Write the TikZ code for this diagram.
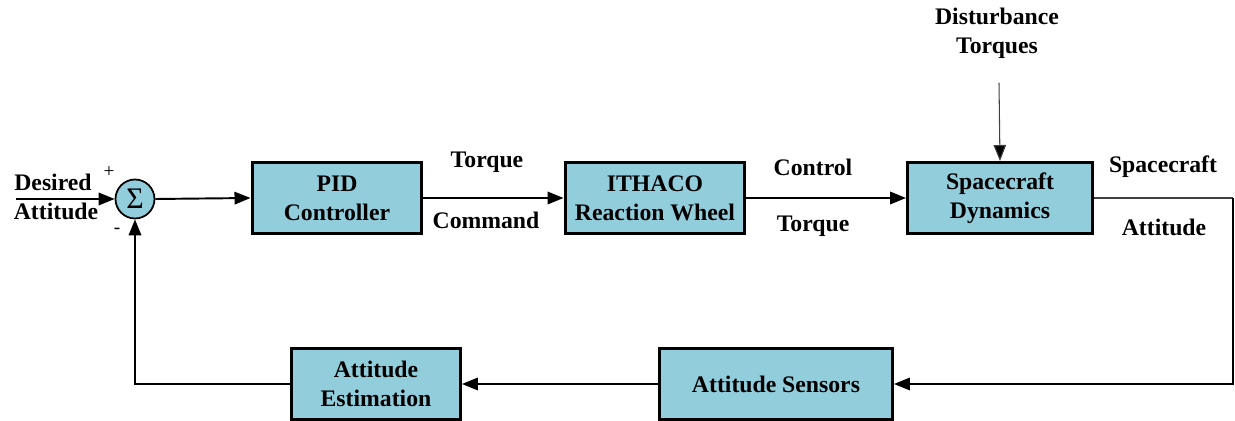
\documentclass[tikz,border=0pt]{standalone}
\usepackage{fontspec}
\setmainfont{Liberation Serif}
\newfontfamily\diagfont{Liberation Serif}
\usetikzlibrary{arrows.meta}
\definecolor{boxblue}{RGB}{146,205,220}
\tikzset{
  block/.style={draw, line width=1.7pt, fill=boxblue, align=center, minimum height=1.42cm},
  lbl/.style={align=center},
  sig/.style={line width=1.1pt, -{Triangle[length=0.32cm, width=0.25cm]}},
  thinsig/.style={line width=0.6pt, draw=black!75}
}
\begin{document}
\begin{tikzpicture}[x=0.02cm, y=-0.02cm, font=\diagfont\bfseries\fontsize{13.5}{16.5}\selectfont]
    \useasboundingbox (0,0) rectangle (1235,421);

    % Draw the summing junction
    \node[circle, draw, line width=1pt, fill=boxblue, minimum size=0.78cm, inner sep=0pt] (sum) at (135,199)
        {\diagfont\mdseries\fontsize{17}{17}\selectfont Σ};
    \coordinate (in) at (16,199);
    \node[lbl] (desired) at (53,182) {Desired};
    \node[lbl] (attin) at (56,211) {Attitude};
    \node (plus) at (109,172) {\mdseries\fontsize{11}{11}\selectfont +};
    \node (minus) at (117,231) {\mdseries\fontsize{11}{11}\selectfont -};

    % Draw the forward blocks
    \node[block, minimum width=3.4cm] (pid) at (337,198) {PID\\Controller};
    \node[block, minimum width=3.6cm] (wheel) at (655,198) {ITHACO\\Reaction Wheel};
    \node[block, minimum width=3.7cm] (sc) at (1000,198) {Spacecraft\\Dynamics};

    % Draw the feedback blocks
    \node[block, minimum width=4.66cm] (sens) at (776,384) {Attitude Sensors};
    \node[block, minimum width=3.38cm] (est) at (376,384) {Attitude\\Estimation};

    % Signal labels
    \node[lbl] (tq) at (487,162) {Torque};
    \node[lbl] (cmd) at (486,220) {Command};
    \node[lbl] (ctl) at (813,167) {Control};
    \node[lbl] (ctq) at (813,226) {Torque};
    \node[lbl] (scl) at (1163,167) {Spacecraft};
    \node[lbl] (att) at (1164,227) {Attitude};
    \node[lbl] (dist) at (997,33) {Disturbance\\Torques};
    \coordinate (distin) at (999,83);

    % Draw the connections
    \draw[sig] (in) -- (sum.west);
    \draw[sig] (sum.east) -- (pid.west);
    \draw[sig] (pid.east) -- (wheel.west);
    \draw[sig] (wheel.east) -- (sc.west);
    \draw[thinsig, -{Triangle[length=0.32cm, width=0.25cm, fill=black]}] (distin) -- (sc.north);
    \coordinate (corner) at (1233,198);
    \draw[thinsig] (sc.east) -- (corner);
    \draw[sig] (corner) |- (sens.east);
    \draw[sig] (sens.west) -- (est.east);
    \draw[sig] (est.west) -| (sum.south);
\end{tikzpicture}
\end{document}
